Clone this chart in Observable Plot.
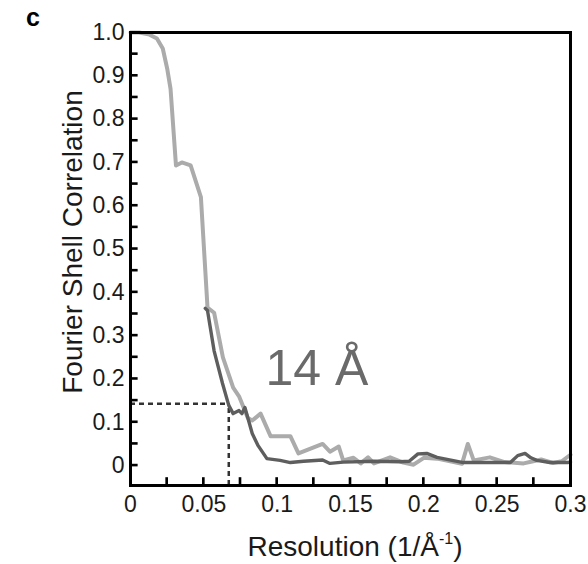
<!DOCTYPE html>
<html><head><meta charset="utf-8">
<script src="https://cdn.jsdelivr.net/npm/d3@7"></script>
<script src="https://cdn.jsdelivr.net/npm/@observablehq/plot@0.6"></script>
<style>body{margin:0;background:#fff} #chart{width:588px;height:564px}</style>
</head><body><div id="chart"></div>
<script>
// ---- data ----
const lightX = [0, 0.006, 0.013, 0.018, 0.022, 0.025, 0.0273, 0.031, 0.035, 0.041, 0.048, 0.0525, 0.057, 0.063, 0.070, 0.074, 0.080, 0.083, 0.0887, 0.0955, 0.109, 0.1145, 0.131, 0.136, 0.142, 0.145, 0.152, 0.157, 0.162, 0.166, 0.177, 0.186, 0.193, 0.200, 0.209, 0.218, 0.226, 0.230, 0.234, 0.245, 0.255, 0.268, 0.273, 0.280, 0.288, 0.294, 0.300];
const lightY = [1.0, 1.0, 0.995, 0.986, 0.963, 0.917, 0.87, 0.693, 0.70, 0.693, 0.62, 0.365, 0.353, 0.25, 0.18, 0.16, 0.11, 0.104, 0.12, 0.068, 0.068, 0.028, 0.05, 0.032, 0.044, 0.012, 0.018, 0.005, 0.019, 0.005, 0.019, 0.007, 0.002, 0.018, 0.016, 0.01, 0.004, 0.05, 0.012, 0.019, 0.008, 0.005, 0.009, 0.014, 0.006, 0.01, 0.025];
const darkX = [0.051, 0.0525, 0.057, 0.0627, 0.067, 0.070, 0.074, 0.076, 0.078, 0.083, 0.087, 0.093, 0.102, 0.109, 0.118, 0.131, 0.136, 0.145, 0.166, 0.184, 0.190, 0.196, 0.202, 0.209, 0.215, 0.227, 0.241, 0.259, 0.264, 0.269, 0.273, 0.277, 0.286, 0.298, 0.300];
const darkY = [0.363, 0.358, 0.265, 0.19, 0.139, 0.12, 0.127, 0.12, 0.134, 0.074, 0.046, 0.016, 0.012, 0.007, 0.01, 0.013, 0.005, 0.008, 0.01, 0.009, 0.01, 0.027, 0.028, 0.019, 0.015, 0.007, 0.007, 0.007, 0.023, 0.028, 0.018, 0.012, 0.007, 0.007, 0.008];

const xTicks = [0, 0.05, 0.1, 0.15, 0.2, 0.25, 0.3];
const xTickLabels = ["0", "0.05", "0.1", "0.15", "0.2", "0.25", "0.3"];
const xMinorTicks = [0.025, 0.05, 0.075, 0.1, 0.125, 0.15, 0.175, 0.2, 0.225, 0.25, 0.275];
const yTicks = [0, 0.1, 0.2, 0.3, 0.4, 0.5, 0.6, 0.7, 0.8, 0.9, 1.0];
const yTickLabels = ["0", "0.1", "0.2", "0.3", "0.4", "0.5", "0.6", "0.7", "0.8", "0.9", "1.0"];
const yMinorTicks = [0, 0.05, 0.1, 0.15, 0.2, 0.25, 0.3, 0.35, 0.4, 0.45, 0.5, 0.55, 0.6, 0.65, 0.7, 0.75, 0.8, 0.85, 0.9, 0.95];

const cutoffRes = 0.067;   // 1/Å at FSC threshold
const cutoffFsc = 0.143;
const annotation = [{x: 0.092, y: 0.185, text: "14 Å"}];
const xDomain = [0, 0.3];
const yDomain = [-0.046, 1.0];

// ---- build ----
const light = lightX.map((x, i) => ({x, y: lightY[i]}));
const dark = darkX.map((x, i) => ({x, y: darkY[i]}));
const xLab = new Map(xTicks.map((t, i) => [t, xTickLabels[i]]));
const yLab = new Map(yTicks.map((t, i) => [t, yTickLabels[i]]));
const yMin = yDomain[0];
// inward tick marks as thin filled rectangles (in data units)
const xTickRects = xMinorTicks.map(t => ({x1: t - 0.0009, x2: t + 0.0009, y1: yMin, y2: yMin + 0.018}));
const yTickRects = yMinorTicks.map(t => ({x1: 0, x2: 0.0052, y1: t - 0.003, y2: t + 0.003}));
const font = "'Liberation Sans', Arial, sans-serif";

const plot = Plot.plot({
  width: 588, height: 564,
  marginLeft: 130, marginRight: 18, marginTop: 32, marginBottom: 79,
  x: {domain: xDomain},
  y: {domain: yDomain},
  style: {fontFamily: font},
  marks: [
    Plot.axisX(xTicks, {tickSize: 0, tickPadding: 10, fontSize: 23, fill: "#1a1a1a", label: null, tickFormat: d => xLab.get(d)}),
    Plot.axisY(yTicks, {tickSize: 0, tickPadding: 6, fontSize: 23, fill: "#1a1a1a", label: null, tickFormat: d => yLab.get(d)}),
    Plot.ruleY([cutoffFsc], {x1: 0, x2: cutoffRes, stroke: "#333", strokeWidth: 2.5, strokeDasharray: "5,4"}),
    Plot.ruleX([cutoffRes], {y1: yMin, y2: cutoffFsc, stroke: "#333", strokeWidth: 2.5, strokeDasharray: "5,4"}),
    Plot.line(light, {x: "x", y: "y", stroke: "#ababab", strokeWidth: 4}),
    Plot.line(dark, {x: "x", y: "y", stroke: "#5e5e5e", strokeWidth: 3.4}),
    Plot.text(annotation, {x: "x", y: "y", text: "text", textAnchor: "start", lineAnchor: "bottom", fontSize: 50, fill: "#6a6a6a"}),
    Plot.frame({stroke: "black", strokeWidth: 3}),
    Plot.rect(xTickRects, {x1: "x1", x2: "x2", y1: "y1", y2: "y2", fill: "black"}),
    Plot.rect(yTickRects, {x1: "x1", x2: "x2", y1: "y1", y2: "y2", fill: "black"})
  ]
});

const svg = d3.select(plot);
svg.append("text").attr("transform", "translate(82,242) rotate(-90)")
  .attr("text-anchor", "middle").attr("font-family", font).attr("font-size", 28).attr("fill", "#1a1a1a")
  .text("Fourier Shell Correlation");
const xt = svg.append("text").attr("x", 355).attr("y", 556)
  .attr("text-anchor", "middle").attr("font-family", font).attr("font-size", 28).attr("fill", "#1a1a1a");
xt.append("tspan").text("Resolution (1/Å");
xt.append("tspan").attr("font-size", 16).attr("dy", -12).text("-1");
xt.append("tspan").attr("dy", 12).text(")");
svg.append("text").attr("x", 33).attr("y", 26).attr("font-family", font).attr("font-weight", "bold")
  .attr("font-size", 25).attr("fill", "#000").text("c");

document.getElementById("chart").appendChild(plot);
</script>
</body></html>
